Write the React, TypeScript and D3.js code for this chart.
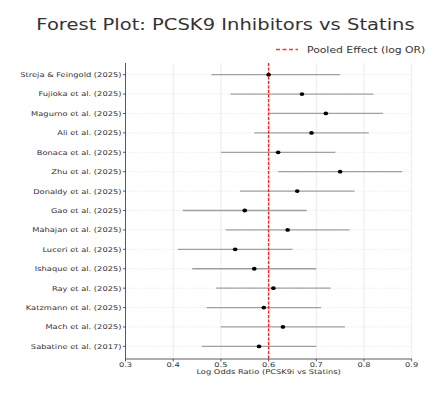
import { useEffect, useRef } from 'react'
import * as d3 from 'd3'

// studies, top to bottom
const studies = [
  'Streja & Feingold (2025)',
  'Fujioka et al. (2025)',
  'Magurno et al. (2025)',
  'Ali et al. (2025)',
  'Bonaca et al. (2025)',
  'Zhu et al. (2025)',
  'Donaldy et al. (2025)',
  'Gao et al. (2025)',
  'Mahajan et al. (2025)',
  'Luceri et al. (2025)',
  'Ishaque et al. (2025)',
  'Ray et al. (2025)',
  'Katzmann et al. (2025)',
  'Mach et al. (2025)',
  'Sabatine et al. (2017)',
]
const logOR = [0.6, 0.67, 0.72, 0.69, 0.62, 0.75, 0.66, 0.55, 0.64, 0.53, 0.57, 0.61, 0.59, 0.63, 0.58]
const ciLow = [0.48, 0.52, 0.6, 0.57, 0.5, 0.62, 0.54, 0.42, 0.51, 0.41, 0.44, 0.49, 0.47, 0.5, 0.46]
const ciHigh = [0.75, 0.82, 0.84, 0.81, 0.74, 0.88, 0.78, 0.68, 0.77, 0.65, 0.7, 0.73, 0.71, 0.76, 0.7]
const pooled = 0.6
const xTicks = [0.3, 0.4, 0.5, 0.6, 0.7, 0.8, 0.9]

const FONT = 'DejaVu Sans, sans-serif'
const STRETCH = 1.26 // the picture is wider than tall, text too

export default function App() {
  const svgRef = useRef<SVGSVGElement>(null)

  useEffect(() => {
    if (!svgRef.current) return
    const width = 448
    const height = 403

    const svg = d3.select(svgRef.current)
    svg.selectAll('*').remove()
    svg.attr('width', width).attr('height', height)

    svg.append('rect').attr('width', width).attr('height', height).attr('fill', '#fff')

    const x = d3.scaleLinear().domain([0.3, 0.9]).range([125.5, 411.7])
    const y = d3.scaleLinear().domain([-0.6, 14.65]).range([63, 359])

    const label = (
      parent: d3.Selection<any, any, any, any>,
      tx: number,
      ty: number,
      txt: string,
      size: number,
      anchor: string
    ) =>
      parent.append('text')
        .attr('transform', `translate(${tx},${ty}) scale(${STRETCH},1)`)
        .attr('text-anchor', anchor)
        .attr('font-family', FONT)
        .attr('font-size', size)
        .attr('fill', '#333')
        .text(txt)

    // Title
    label(svg, 225.5, 30, 'Forest Plot: PCSK9 Inhibitors vs Statins', 15.5, 'middle')

    // Legend
    svg.append('line')
      .attr('x1', 276).attr('x2', 298)
      .attr('y1', 49.5).attr('y2', 49.5)
      .attr('stroke', '#ff3333')
      .attr('stroke-width', 1.5)
      .attr('stroke-dasharray', '4,2.5')
    label(svg, 307, 52.5, 'Pooled Effect (log OR)', 8.6, 'start')

    const g = svg.append('g')

    // vertical grid
    g.selectAll('.vgrid')
      .data(xTicks)
      .enter()
      .append('line')
      .attr('x1', d => x(d)).attr('x2', d => x(d))
      .attr('y1', 63).attr('y2', 359)
      .attr('stroke', '#e6e6e6')
      .attr('stroke-width', 0.8)

    // horizontal dotted grid
    g.selectAll('.hgrid')
      .data(studies)
      .enter()
      .append('line')
      .attr('x1', 125.5).attr('x2', 411.7)
      .attr('y1', (_, i) => y(i)).attr('y2', (_, i) => y(i))
      .attr('stroke', '#e3e3e3')
      .attr('stroke-width', 0.7)
      .attr('stroke-dasharray', '1.5,1.5')

    // CI lines
    g.selectAll('.ci')
      .data(studies)
      .enter()
      .append('line')
      .attr('x1', (_, i) => x(ciLow[i]))
      .attr('x2', (_, i) => x(ciHigh[i]))
      .attr('y1', (_, i) => y(i)).attr('y2', (_, i) => y(i))
      .attr('stroke', '#a0a0a0')
      .attr('stroke-width', 1.3)

    // pooled line
    g.append('line')
      .attr('x1', x(pooled)).attr('x2', x(pooled))
      .attr('y1', 63).attr('y2', 359)
      .attr('stroke', '#ff2020')
      .attr('stroke-width', 1.4)
      .attr('stroke-dasharray', '3,1.5')

    // points
    g.selectAll('.pt')
      .data(logOR)
      .enter()
      .append('ellipse')
      .attr('cx', d => x(d))
      .attr('cy', (_, i) => y(i))
      .attr('rx', 2.3)
      .attr('ry', 1.9)
      .attr('fill', '#000')

    // spines
    g.append('line')
      .attr('x1', 125.5).attr('x2', 125.5)
      .attr('y1', 63).attr('y2', 359)
      .attr('stroke', '#333').attr('stroke-width', 0.8)
    g.append('line')
      .attr('x1', 125.5).attr('x2', 411.7)
      .attr('y1', 359).attr('y2', 359)
      .attr('stroke', '#333').attr('stroke-width', 0.8)

    // x ticks
    xTicks.forEach(t => {
      g.append('line')
        .attr('x1', x(t)).attr('x2', x(t))
        .attr('y1', 359).attr('y2', 361.5)
        .attr('stroke', '#333').attr('stroke-width', 0.8)
      label(g, x(t), 367, t.toFixed(1), 6.6, 'middle')
    })

    // y ticks
    studies.forEach((s, i) => {
      g.append('line')
        .attr('x1', 123).attr('x2', 125.5)
        .attr('y1', y(i)).attr('y2', y(i))
        .attr('stroke', '#333').attr('stroke-width', 0.8)
      label(g, 121.5, y(i) + 2.4, s, 6.6, 'end')
    })

    // x label
    label(svg, 268.6, 374, 'Log Odds Ratio (PCSK9i vs Statins)', 6.6, 'middle')
  }, [])

  return (
    <div style={{ position: 'absolute', left: 0, top: 0 }}>
      <svg ref={svgRef} style={{ display: 'block' }} />
    </div>
  )
}
